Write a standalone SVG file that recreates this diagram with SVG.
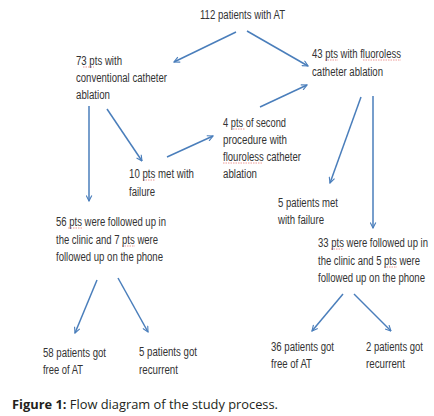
<svg xmlns="http://www.w3.org/2000/svg" width="434" height="416" viewBox="0 0 434 416">
<defs>
<marker id="ah" viewBox="0 0 10 10" refX="9" refY="5" markerWidth="7" markerHeight="7" orient="auto" markerUnits="userSpaceOnUse">
<path d="M1,1 L9,5 L1,9" fill="none" stroke="#4a7ebb" stroke-width="1.6"/>
</marker>
</defs>
<style>
.t{font-family:"Liberation Sans",Arial,sans-serif;font-size:12px;fill:#333333}
.c{stroke:#4a7ebb;stroke-width:1.5;fill:none;marker-end:url(#ah)}
.sp{stroke:#e8807c;stroke-width:0.8;fill:none;stroke-dasharray:1.5 1}
.cap{font-family:"Open Sans","Liberation Sans",sans-serif;font-size:12.5px;fill:#231f20}
</style>
<rect width="434" height="416" fill="#ffffff"/>
<g id="connectors">
<line class="c" x1="236" y1="32" x2="174" y2="62"/>
<line class="c" x1="247" y1="31" x2="308" y2="66"/>
<line class="c" x1="260" y1="107" x2="307" y2="85"/>
<line class="c" x1="89" y1="106" x2="89" y2="201"/>
<line class="c" x1="107" y1="109" x2="142" y2="161"/>
<line class="c" x1="167" y1="157" x2="213" y2="136"/>
<line class="c" x1="361" y1="97" x2="330" y2="183"/>
<line class="c" x1="373" y1="96" x2="373" y2="228"/>
<line class="c" x1="97" y1="280" x2="75" y2="333"/>
<line class="c" x1="118" y1="278" x2="148" y2="332"/>
<line class="c" x1="343" y1="294" x2="312" y2="331"/>
<line class="c" x1="354" y1="294" x2="391" y2="331"/>
</g>
<g id="spellcheck">
<line class="sp" x1="83" y1="67" x2="94" y2="67"/>
<line class="sp" x1="325" y1="60" x2="338" y2="60"/>
<line class="sp" x1="363" y1="60" x2="401" y2="60"/>
<line class="sp" x1="233" y1="129" x2="245" y2="129"/>
<line class="sp" x1="223" y1="163" x2="263" y2="163"/>
<line class="sp" x1="143" y1="180" x2="155" y2="180"/>
<line class="sp" x1="68" y1="228" x2="82" y2="228"/>
<line class="sp" x1="122" y1="246" x2="135" y2="246"/>
<line class="sp" x1="331" y1="249" x2="343" y2="249"/>
<line class="sp" x1="384" y1="267" x2="397" y2="267"/>
</g>
<g id="n-total"><text class="t" x="200" y="19" textLength="85" lengthAdjust="spacingAndGlyphs">112 patients with AT</text></g>
<g id="n-conv">
<text class="t" x="76" y="65" textLength="46" lengthAdjust="spacingAndGlyphs">73 pts with</text>
<text class="t" x="76" y="82" textLength="91" lengthAdjust="spacingAndGlyphs">conventional catheter</text>
<text class="t" x="76" y="99" textLength="34" lengthAdjust="spacingAndGlyphs">ablation</text>
</g>
<g id="n-fluoro">
<text class="t" x="312" y="58" textLength="89" lengthAdjust="spacingAndGlyphs">43 pts with fluoroless</text>
<text class="t" x="312" y="76" textLength="71" lengthAdjust="spacingAndGlyphs">catheter ablation</text>
</g>
<g id="n-second">
<text class="t" x="223" y="127" textLength="63" lengthAdjust="spacingAndGlyphs">4 pts of second</text>
<text class="t" x="223" y="144" textLength="64" lengthAdjust="spacingAndGlyphs">procedure with</text>
<text class="t" x="223" y="161" textLength="78" lengthAdjust="spacingAndGlyphs">flouroless catheter</text>
<text class="t" x="223" y="178" textLength="34" lengthAdjust="spacingAndGlyphs">ablation</text>
</g>
<g id="n-fail10">
<text class="t" x="129" y="178" textLength="65" lengthAdjust="spacingAndGlyphs">10 pts met with</text>
<text class="t" x="129" y="196" textLength="26" lengthAdjust="spacingAndGlyphs">failure</text>
</g>
<g id="n-fail5">
<text class="t" x="278" y="207" textLength="60" lengthAdjust="spacingAndGlyphs">5 patients met</text>
<text class="t" x="278" y="224" textLength="46" lengthAdjust="spacingAndGlyphs">with failure</text>
</g>
<g id="n-follow-left">
<text class="t" x="56" y="226" textLength="110" lengthAdjust="spacingAndGlyphs">56 pts were followed up in</text>
<text class="t" x="56" y="244" textLength="102" lengthAdjust="spacingAndGlyphs">the clinic and 7 pts were</text>
<text class="t" x="56" y="261" textLength="107" lengthAdjust="spacingAndGlyphs">followed up on the phone</text>
</g>
<g id="n-follow-right">
<text class="t" x="318" y="247" textLength="110" lengthAdjust="spacingAndGlyphs">33 pts were followed up in</text>
<text class="t" x="318" y="265" textLength="102" lengthAdjust="spacingAndGlyphs">the clinic and 5 pts were</text>
<text class="t" x="318" y="282" textLength="107" lengthAdjust="spacingAndGlyphs">followed up on the phone</text>
</g>
<g id="n-free58">
<text class="t" x="43" y="357" textLength="63" lengthAdjust="spacingAndGlyphs">58 patients got</text>
<text class="t" x="43" y="374" textLength="40" lengthAdjust="spacingAndGlyphs">free of AT</text>
</g>
<g id="n-rec5">
<text class="t" x="139" y="356" textLength="58" lengthAdjust="spacingAndGlyphs">5 patients got</text>
<text class="t" x="139" y="374" textLength="39" lengthAdjust="spacingAndGlyphs">recurrent</text>
</g>
<g id="n-free36">
<text class="t" x="271" y="351" textLength="63" lengthAdjust="spacingAndGlyphs">36 patients got</text>
<text class="t" x="271" y="368" textLength="41" lengthAdjust="spacingAndGlyphs">free of AT</text>
</g>
<g id="n-rec2">
<text class="t" x="366" y="351" textLength="57" lengthAdjust="spacingAndGlyphs">2 patients got</text>
<text class="t" x="366" y="368" textLength="39" lengthAdjust="spacingAndGlyphs">recurrent</text>
</g>
<g id="caption">
<text class="cap" x="12" y="409" textLength="266" lengthAdjust="spacingAndGlyphs"><tspan font-weight="bold">Figure 1:</tspan> Flow diagram of the study process.</text>
</g>
</svg>
